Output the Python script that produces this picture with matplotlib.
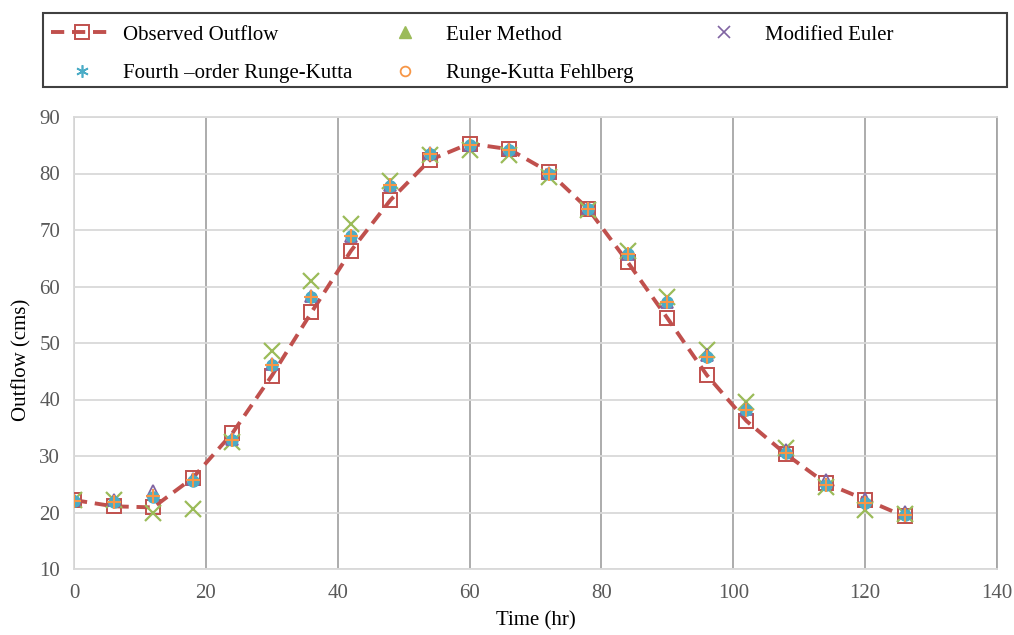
import matplotlib
matplotlib.use('Agg')

import matplotlib.pyplot as plt
from matplotlib.lines import Line2D
from matplotlib.patches import Rectangle

plt.rcParams['font.family'] = ['Liberation Serif', 'DejaVu Serif']

# data
time_hr = [0, 6, 12, 18, 24, 30, 36, 42, 48, 54, 60, 66, 72, 78, 84, 90, 96, 102, 108, 114, 120, 126]
observed = [22.2, 21.1, 20.9, 26.1, 34.0, 44.2, 55.4, 66.3, 75.3, 82.4, 85.3, 84.3, 80.3, 73.7, 64.3, 54.4, 44.3, 36.2, 30.3, 25.2, 22.3, 19.3]
euler = [22.2, 22.2, 20.0, 20.7, 32.5, 48.5, 61.0, 71.1, 78.6, 83.3, 84.2, 83.3, 79.3, 73.5, 66.3, 58.2, 48.8, 39.6, 31.4, 24.6, 20.4, 19.8]
mod_euler = [22.3, 22.2, 23.8, 26.0, 33.0, 46.2, 58.3, 69.0, 78.0, 83.7, 85.1, 84.3, 80.1, 73.9, 65.8, 57.3, 47.8, 38.4, 31.0, 25.7, 22.4, 20.1]
rk4 = [22.1, 21.9, 22.8, 25.6, 32.8, 46.1, 58.2, 68.9, 77.8, 83.5, 85.0, 84.2, 80.0, 73.8, 65.7, 57.2, 47.6, 38.1, 30.5, 24.9, 21.6, 19.6]
rkf = [22.1, 21.9, 22.9, 25.7, 32.9, 46.1, 58.2, 68.9, 77.9, 83.5, 85.0, 84.2, 80.0, 73.8, 65.7, 57.2, 47.6, 38.1, 30.5, 24.9, 21.7, 19.6]

labels = ['Observed Outflow', 'Euler Method', 'Modified Euler',
          'Fourth \u2013order Runge-Kutta', 'Runge-Kutta Fehlberg']

red = '#C0504D'
green = '#9BBB59'
purple = '#8064A2'
cyan = '#4BACC6'
orange = '#F79646'

fs = 15

fig = plt.figure(figsize=(10.14, 6.35), dpi=100)
ax = fig.add_axes([74 / 1014, 66 / 635, 923 / 1014, 452 / 635])

ax.plot(time_hr, observed, color=red, lw=2.8, linestyle=(0, (3.4, 2.0)),
        marker='s', ms=9.5, mfc='none', mec=red, mew=1.4, zorder=3)
ax.plot(time_hr, euler, linestyle='none', marker='x', ms=11, mec=green, mew=1.6, zorder=4)
ax.plot(time_hr, mod_euler, linestyle='none', marker='^', ms=8.5, mfc='none', mec=purple, mew=1.3, zorder=5)
ax.plot(time_hr, rk4, linestyle='none', marker='o', ms=8, mfc=cyan, mec=cyan, zorder=6)
ax.plot(time_hr, rkf, linestyle='none', marker='+', ms=10, mec=orange, mew=1.5, zorder=7)

ax.set_xlim(0, 140)
ax.set_ylim(10, 90)
ax.set_xticks(range(0, 141, 20))
ax.set_yticks(range(10, 91, 10))

ax.yaxis.grid(True, color='#d9d9d9', lw=1.3)
ax.xaxis.grid(True, color='#a6a6a6', lw=1.3)
ax.set_axisbelow(True)
for side in ['left', 'bottom', 'top']:
    ax.spines[side].set_color('#d9d9d9')
    ax.spines[side].set_linewidth(1.3)
ax.spines['right'].set_color('#a6a6a6')
ax.spines['right'].set_linewidth(1.3)

ax.tick_params(axis='both', length=0, labelsize=fs, labelcolor='#595959')
ax.tick_params(axis='x', pad=11)
ax.tick_params(axis='y', pad=10)

ax.set_xlabel('Time (hr)', fontsize=fs)
ax.set_ylabel('Outflow (cms)', fontsize=fs)
ax.xaxis.set_label_coords(0.5, -0.094)
ax.yaxis.set_label_coords(-0.046, 0.462)

# legend box: excel-style fixed columns
fig.patches.append(Rectangle((43 / 1014, 1 - 87 / 635), 964 / 1014, 74 / 635,
                             transform=fig.transFigure, fill=False,
                             edgecolor='#404040', lw=1.5))

h_obs = Line2D([], [], color=red, lw=2.8, linestyle=(0, (3.4, 2.0)),
               marker='s', ms=9.5, mfc='none', mec=red, mew=1.4)
h_euler = Line2D([], [], linestyle='none', marker='^', ms=9, color=green)
h_mod = Line2D([], [], linestyle='none', marker='x', ms=8, mec=purple, mew=1.2)
h_rk4 = Line2D([], [], linestyle='none', marker=(6, 2, 0), ms=9, mec=cyan, mew=1.2)
h_rkf = Line2D([], [], linestyle='none', marker='o', ms=7, mfc='none', mec=orange, mew=1.3)

columns = [([h_obs, h_rk4], [labels[0], labels[3]], 51),
           ([h_euler, h_rkf], [labels[1], labels[4]], 374),
           ([h_mod], [labels[2]], 693)]
for handles, labs, x0 in columns:
    fig.legend(handles, labs, loc='upper left', bbox_to_anchor=(x0 / 1014, 1 - 25 / 635),
               frameon=False, fontsize=fs, handlelength=3.0, handletextpad=0.45,
               borderpad=0, borderaxespad=0, labelspacing=0.9)

fig.savefig('out.png', dpi=100)
